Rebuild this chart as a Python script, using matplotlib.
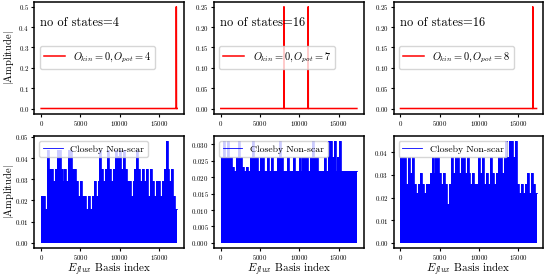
import matplotlib
matplotlib.use('Agg')
import matplotlib.pyplot as plt
import numpy as np

plt.rcParams['font.family'] = 'serif'
plt.rcParams['font.serif'] = ['cmr10']
plt.rcParams['mathtext.fontset'] = 'cm'
plt.rcParams['axes.formatter.use_mathtext'] = True
plt.rcParams['axes.linewidth'] = 1.1

n_basis = 17300

# top row: scar states, spike positions and amplitude
state_counts = [4, 16, 16]
o_pot = [4, 7, 8]
spike_index = [[17180], [8030, 11110], [16820]]
spike_amp = [0.5, 0.25, 0.25]

# bottom row: envelope of |amplitude| for closeby non-scar states (70 bins)
nonscar_left = [0.022, 0.022, 0.016, 0.044, 0.035, 0.035, 0.029, 0.035, 0.044, 0.044,
                0.035, 0.029, 0.035, 0.029, 0.044, 0.044, 0.035, 0.035, 0.029, 0.022,
                0.029, 0.022, 0.022, 0.016, 0.022, 0.016, 0.022, 0.029, 0.022, 0.029,
                0.044, 0.035, 0.029, 0.035, 0.044, 0.035, 0.029, 0.035, 0.044, 0.041,
                0.044, 0.035, 0.044, 0.035, 0.029, 0.029, 0.022, 0.029, 0.035, 0.044,
                0.035, 0.029, 0.035, 0.029, 0.035, 0.022, 0.035, 0.029, 0.022, 0.029,
                0.029, 0.022, 0.029, 0.035, 0.048, 0.035, 0.029, 0.035, 0.022, 0.016]
nonscar_mid = [0.026, 0.031, 0.026, 0.031, 0.026, 0.026, 0.023, 0.022, 0.026, 0.031,
               0.026, 0.023, 0.022, 0.023, 0.022, 0.026, 0.031, 0.026, 0.026, 0.022,
               0.026, 0.026, 0.022, 0.022, 0.026, 0.022, 0.026, 0.022, 0.022, 0.026,
               0.031, 0.026, 0.022, 0.022, 0.026, 0.022, 0.022, 0.026, 0.022, 0.022,
               0.026, 0.022, 0.026, 0.026, 0.026, 0.022, 0.026, 0.031, 0.026, 0.026,
               0.022, 0.022, 0.022, 0.026, 0.022, 0.031, 0.031, 0.026, 0.031, 0.022,
               0.026, 0.031, 0.022, 0.022, 0.022, 0.022, 0.022, 0.022, 0.022, 0.022]
nonscar_right = [0.038, 0.038, 0.038, 0.026, 0.038, 0.031, 0.038, 0.026, 0.022, 0.026,
                 0.031, 0.026, 0.022, 0.026, 0.026, 0.031, 0.038, 0.031, 0.038, 0.038,
                 0.031, 0.026, 0.031, 0.026, 0.017, 0.026, 0.038, 0.031, 0.038, 0.038,
                 0.031, 0.038, 0.038, 0.031, 0.038, 0.031, 0.026, 0.031, 0.026, 0.026,
                 0.038, 0.031, 0.038, 0.026, 0.031, 0.026, 0.038, 0.031, 0.026, 0.031,
                 0.038, 0.038, 0.031, 0.038, 0.045, 0.038, 0.045, 0.045, 0.038, 0.045,
                 0.026, 0.022, 0.026, 0.022, 0.026, 0.031, 0.022, 0.031, 0.026, 0.022]
nonscar = [nonscar_left, nonscar_mid, nonscar_right]

fig, axes = plt.subplots(2, 3, figsize=(5.45, 2.77), dpi=100)
fig.subplots_adjust(left=0.063, right=0.997, bottom=0.105, top=0.994,
                    wspace=0.2, hspace=0.2)

for j in range(3):
    # scar state
    ax = axes[0, j]
    amp = np.zeros(n_basis)
    amp[spike_index[j]] = spike_amp[j]
    ax.plot(np.arange(n_basis), amp, color='red', lw=1.1,
            label=r'$O_{kin}=0, O_{pot}=%d$' % o_pot[j])
    ax.text(0.04, 0.78, 'no of states=%d' % state_counts[j], transform=ax.transAxes,
            fontsize=9)
    ax.legend(loc='center left', fontsize=7.5)

    # closeby non-scar state
    ax = axes[1, j]
    env = np.array(nonscar[j])
    edges = np.linspace(0, n_basis, len(env) + 1)
    y = np.append(env, env[-1])
    ax.fill_between(edges, y, step='post', color='blue', lw=0)
    ax.plot(edges, y, drawstyle='steps-post', color='blue', lw=0.6,
            label='Closeby Non-scar')
    ax.legend(loc='upper left', fontsize=7)
    ax.set_xlabel(r'$E_{flux}$ Basis index', fontsize=8, labelpad=-1)

for ax in axes.flat:
    ax.tick_params(labelsize=5, length=2.5, width=0.8, pad=1.2)

for ax in axes[:, 0]:
    ax.set_ylabel(r'$|$Amplitude$|$', fontsize=7.5)
    ax.yaxis.set_label_coords(-0.12, 0.5)

fig.savefig('out.png', dpi=100)
